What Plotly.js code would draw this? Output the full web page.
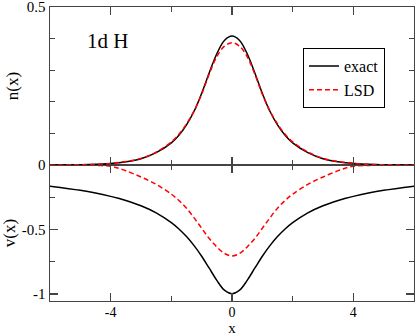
<!DOCTYPE html>
<html>
<head>
<meta charset="utf-8">
<script src="https://cdn.plot.ly/plotly-3.0.1.min.js"></script>
<style>
  html, body { margin: 0; padding: 0; background: #fff; }
  #graph { width: 415px; height: 336px; }
</style>
</head>
<body>
<div id="graph"></div>
<script>
// x grid shared by all four curves
const xGrid = [-6, -5, -4.5, -4, -3.75, -3.5, -3, -2.5, -2, -1.75, -1.5, -1.25, -1, -0.75, -0.5, -0.25, 0,
               0.25, 0.5, 0.75, 1, 1.25, 1.5, 1.75, 2, 2.5, 3, 3.5, 3.75, 4, 4.5, 5, 6];

// density n(x)
const nExact = [0.0003, 0.001, 0.002, 0.005, 0.007, 0.010, 0.020, 0.039, 0.070, 0.094, 0.127, 0.170, 0.227, 0.292, 0.352, 0.394, 0.408,
                0.394, 0.352, 0.292, 0.227, 0.170, 0.127, 0.094, 0.070, 0.039, 0.020, 0.010, 0.007, 0.005, 0.002, 0.001, 0.0003];
const nLSD = [0.0001, 0.0008, 0.002, 0.005, 0.008, 0.011, 0.021, 0.041, 0.073, 0.097, 0.130, 0.171, 0.224, 0.288, 0.343, 0.376, 0.387,
              0.376, 0.343, 0.288, 0.224, 0.171, 0.130, 0.097, 0.073, 0.041, 0.021, 0.011, 0.008, 0.005, 0.002, 0.0008, 0.0001];

// potential v(x)
const vExact = [-0.164, -0.196, -0.217, -0.243, -0.258, -0.275, -0.316, -0.371, -0.447, -0.496, -0.555, -0.625, -0.707, -0.800, -0.894, -0.970, -0.997,
                -0.970, -0.894, -0.800, -0.707, -0.625, -0.555, -0.496, -0.447, -0.371, -0.316, -0.275, -0.258, -0.243, -0.217, -0.196, -0.164];
const vLSD = [-0.0001, -0.001, -0.003, -0.010, -0.024, -0.044, -0.093, -0.150, -0.226, -0.275, -0.335, -0.410, -0.490, -0.570, -0.635, -0.685, -0.705,
              -0.685, -0.635, -0.570, -0.490, -0.410, -0.335, -0.275, -0.226, -0.150, -0.093, -0.044, -0.024, -0.010, -0.003, -0.001, -0.0001];

const xTicks = [-4, 0, 4];
const xTickText = ['-4', '0', '4'];
const nTicks = [0, 0.5];
const nTickText = ['0', '0.5'];
const vTicks = [-1, -0.5, 0];
const vTickText = ['-1', '-0.5', ''];

const serif = 'Liberation Serif, Times New Roman, serif';
const frame = '#444';

const traces = [
    {x: xGrid, y: nExact, xaxis: 'x2', yaxis: 'y', mode: 'lines', name: 'exact',
     line: {color: 'black', width: 1.5, shape: 'spline'}},
    {x: xGrid, y: nLSD, xaxis: 'x2', yaxis: 'y', mode: 'lines', name: 'LSD',
     line: {color: 'red', width: 1.5, dash: '5px,3px', shape: 'spline'}},
    {x: xGrid, y: vExact, xaxis: 'x', yaxis: 'y2', mode: 'lines', showlegend: false,
     line: {color: 'black', width: 1.5, shape: 'spline'}},
    {x: xGrid, y: vLSD, xaxis: 'x', yaxis: 'y2', mode: 'lines', showlegend: false,
     line: {color: 'red', width: 1.5, dash: '5px,3px', shape: 'spline'}}
];

const common = {
    showline: true, linecolor: frame, linewidth: 1.5, mirror: 'allticks',
    ticks: 'inside', ticklen: 8, tickwidth: 1.2, tickcolor: frame,
    showgrid: false, zeroline: false, tickmode: 'array',
    ticklabeloverflow: 'allow',
    tickfont: {family: serif, size: 15, color: 'black'}
};

const layout = {
    width: 415,
    height: 336,
    margin: {l: 50, r: 1, t: 7, b: 35},
    paper_bgcolor: 'white',
    plot_bgcolor: 'white',
    font: {family: serif, color: 'black'},
    showlegend: true,
    legend: {
        x: 0.695, y: 0.86, xanchor: 'left', yanchor: 'top',
        bordercolor: 'black', borderwidth: 1, bgcolor: 'white',
        font: {family: serif, size: 16, color: 'black'},
        tracegroupgap: 0
    },
    xaxis: Object.assign({}, common, {
        anchor: 'y2', range: [-6, 6], tickvals: xTicks, ticktext: xTickText, linewidth: 1,
        tickfont: {family: serif, size: 14, color: 'black'},
        ticklabelstandoff: -2,
        minor: {tickvals: [-2, 2], ticklen: 5, tickcolor: frame, ticks: 'inside'},
        title: {text: 'x', font: {family: serif, size: 15}, standoff: 2}
    }),
    xaxis2: Object.assign({}, common, {
        anchor: 'y', matches: 'x', range: [-6, 6], tickvals: xTicks, showticklabels: false, linewidth: 1,
        minor: {tickvals: [-2, 2], ticklen: 5, tickcolor: frame, ticks: 'inside'}
    }),
    yaxis: Object.assign({}, common, {
        anchor: 'x2', domain: [0.4626, 1], range: [0, 0.5], tickvals: nTicks, ticktext: nTickText,
        minor: {tickvals: [0.1, 0.2, 0.3, 0.4], ticklen: 5, tickcolor: frame, ticks: 'inside'},
        title: {text: 'n(x)', font: {family: serif, size: 17}, standoff: 4}
    }),
    yaxis2: Object.assign({}, common, {
        anchor: 'x', domain: [0, 0.4626], range: [-1.054, 0], tickvals: vTicks, ticktext: vTickText,
        minor: {tickvals: [-0.75, -0.25], ticklen: 5, tickcolor: frame, ticks: 'inside'},
        title: {text: 'v(x)', font: {family: serif, size: 17}, standoff: 4}
    }),
    annotations: [
        {text: '1d H', xref: 'x2', yref: 'y', x: -4.1, y: 0.392,
         showarrow: false, font: {family: serif, size: 21, color: 'black'}}
    ]
};

Plotly.newPlot('graph', traces, layout, {staticPlot: true, displayModeBar: false});
</script>
</body>
</html>
